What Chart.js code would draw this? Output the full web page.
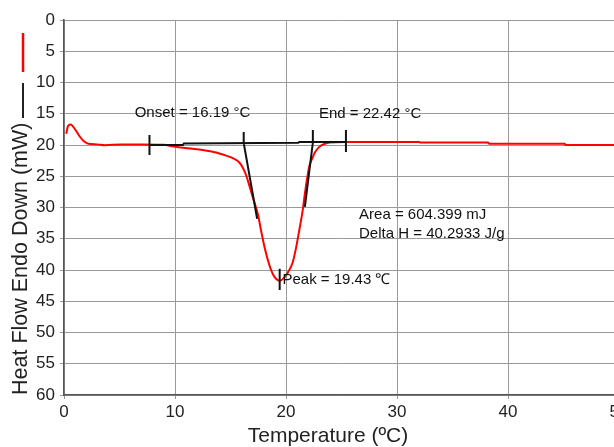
<!DOCTYPE html>
<html>
<head>
<meta charset="utf-8">
<title>DSC</title>
<script src="https://cdn.jsdelivr.net/npm/chart.js@4.4.0/dist/chart.umd.min.js"></script>
<style>
  html, body { margin: 0; padding: 0; background: #fff; overflow: hidden; }
  #wrap { width: 640px; height: 447px; }
</style>
</head>
<body>
<div id="wrap"><canvas id="dscCanvas" width="640" height="447"></canvas></div>
<script>
// heating scan (red)
const temperature = [0.2, 0.35, 0.6, 1.0, 1.4, 1.8, 2.2, 3.0, 3.7, 5.2, 7.0, 9.0, 9.7, 10.5, 11.6, 12.5, 13.7, 14.6, 15.2, 15.8,
  16.1, 16.4, 16.7, 17.0, 17.5, 17.7, 18.1, 18.5, 18.8, 19.1, 19.43, 19.8, 20.3, 20.6, 20.9, 21.2, 21.5, 21.7, 21.9, 22.1,
  22.4, 22.6, 23.0, 23.5, 23.9, 25.4, 32.0, 32.1, 38.2, 38.3, 45.1, 45.2, 49.6, 50.0];
const heatFlow = [18.2, 17.0, 16.7, 17.5, 18.6, 19.4, 19.8, 19.9, 20.05, 19.9, 19.9, 19.95, 20.2, 20.4, 20.6, 20.8, 21.2, 21.7, 22.1, 22.8,
  23.6, 24.8, 26.5, 28.3, 31.3, 33.2, 36.6, 39.2, 40.6, 41.4, 41.7, 41.3, 40.0, 38.8, 36.5, 33.6, 30.5, 27.8, 25.4, 23.4,
  22.0, 21.2, 20.3, 19.8, 19.6, 19.5, 19.5, 19.6, 19.6, 19.8, 19.8, 20.0, 20.0, 20.0];

// peak analysis results
const onsetT = 16.19;
const endT = 22.42;
const peakT = 19.43;
const areaMJ = '604.399';
const deltaH = '40.2933';

// analysis construction (black): limits, baseline, tangents, peak marker; null breaks the line
const analysisT = [7.7, 7.7, null,
  7.7, 10.7, 10.8, 21.1, 21.2, 25.4, null,
  onsetT, onsetT, 17.4, null,
  endT, endT, 21.7, null,
  25.4, 25.4, null,
  peakT, peakT];
const analysisY = [18.4, 21.6, null,
  20.0, 20.0, 19.75, 19.65, 19.5, 19.5, null,
  17.9, 19.65, 31.8, null,
  17.6, 19.6, 29.9, null,
  17.6, 21.1, null,
  39.8, 43.2];

const xTicks = [0, 10, 20, 30, 40, 50];
const yTicks = [0, 5, 10, 15, 20, 25, 30, 35, 40, 45, 50, 55, 60];

const xTitle = 'Temperature (ºC)';
const yTitle = 'Heat Flow Endo Down (mW)';

const FONT = '"Liberation Sans", Arial, Helvetica, sans-serif';

// result labels, axis titles and the little series key next to the y title
const dscNotes = {
  id: 'dscNotes',
  afterDatasetsDraw(chart, args, opts) {
    const { ctx, chartArea, scales: { x, y } } = chart;
    ctx.save();
    ctx.font = '15px ' + FONT;
    ctx.fillStyle = '#111';
    ctx.textBaseline = 'middle';
    ctx.textAlign = 'left';
    opts.labels.forEach(l => {
      ctx.fillText(l.text, x.getPixelForValue(l.x), y.getPixelForValue(l.y));
    });

    ctx.font = '21px ' + FONT;
    ctx.fillStyle = '#222';
    ctx.textBaseline = 'alphabetic';
    ctx.textAlign = 'center';
    ctx.fillText(xTitle, 328, chart.height - 5);

    ctx.save();
    ctx.translate(chartArea.left - 37, chartArea.bottom);
    ctx.rotate(-Math.PI / 2);
    ctx.textAlign = 'left';
    ctx.font = '21.5px ' + FONT;
    ctx.fillText(yTitle, 0, 0);
    ctx.restore();

    const kx = chartArea.left - 41;
    ctx.lineWidth = 2.5;
    ctx.strokeStyle = '#ff0000';
    ctx.beginPath();
    ctx.moveTo(kx, chartArea.top + 13);
    ctx.lineTo(kx, chartArea.top + 52);
    ctx.stroke();
    ctx.lineWidth = 2;
    ctx.strokeStyle = '#222';
    ctx.beginPath();
    ctx.moveTo(kx, chartArea.top + 63);
    ctx.lineTo(kx, chartArea.top + 98);
    ctx.stroke();
    ctx.restore();
  }
};

const ctx = document.getElementById('dscCanvas').getContext('2d');
new Chart(ctx, {
  type: 'line',
  data: {
    datasets: [
      {
        label: 'Analysis',
        data: analysisT.map((t, i) => (t === null ? { x: null, y: null } : { x: t, y: analysisY[i] })),
        borderColor: '#111',
        borderWidth: 2,
        pointRadius: 0,
        spanGaps: false,
        fill: false
      },
      {
        label: 'Heat Flow',
        data: temperature.map((t, i) => ({ x: t, y: heatFlow[i] })),
        borderColor: '#ff0000',
        borderWidth: 2,
        pointRadius: 0,
        cubicInterpolationMode: 'monotone',
        fill: false
      }
    ]
  },
  options: {
    responsive: false,
    animation: false,
    layout: { padding: { top: 20, right: 21, left: 0, bottom: 0 } },
    plugins: {
      legend: { display: false },
      tooltip: { enabled: false },
      dscNotes: {
        labels: [
          { text: 'Onset = ' + onsetT.toFixed(2) + ' °C', x: 6.37, y: 14.85 },
          { text: 'End = ' + endT.toFixed(2) + ' °C', x: 22.97, y: 15.05 },
          { text: 'Area = ' + areaMJ + ' mJ', x: 26.58, y: 31.2 },
          { text: 'Delta H = ' + deltaH + ' J/g', x: 26.58, y: 34.27 },
          { text: 'Peak = ' + peakT.toFixed(2) + ' ℃', x: 19.68, y: 41.52 }
        ]
      }
    },
    scales: {
      x: {
        type: 'linear',
        min: 0,
        max: 50,
        afterBuildTicks: s => { s.ticks = xTicks.map(v => ({ value: v })); },
        afterFit: s => { s.height = 52; },
        grid: { color: '#9a9a9a', lineWidth: 1, tickLength: 4 },
        border: { color: '#555', width: 1.5 },
        ticks: { color: '#222', padding: 3, font: { family: FONT, size: 17 }, maxRotation: 0 },
        title: { display: false }
      },
      y: {
        type: 'linear',
        min: 0,
        max: 60,
        reverse: true,
        afterBuildTicks: s => { s.ticks = yTicks.map(v => ({ value: v })); },
        afterFit: s => { s.width = 64; },
        grid: { color: '#9a9a9a', lineWidth: 1, tickLength: 4 },
        border: { color: '#555', width: 1.5 },
        ticks: { color: '#222', padding: 5, font: { family: FONT, size: 17 } },
        title: { display: false }
      }
    }
  },
  plugins: [dscNotes]
});
</script>
</body>
</html>
